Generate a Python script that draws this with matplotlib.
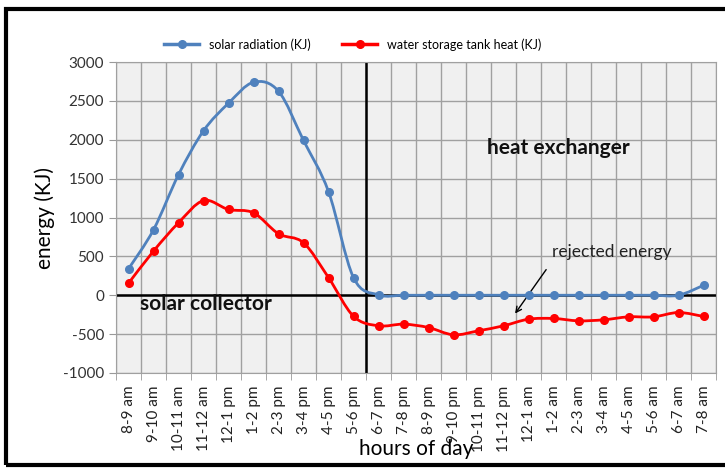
import matplotlib.pyplot as plt
import numpy as np
from matplotlib.patches import Rectangle, PathPatch
from matplotlib.path import Path

plt.rcParams['font.family'] = ['Lato', 'DejaVu Sans']
plt.rcParams['axes.unicode_minus'] = False

hours = ['8-9 am', '9-10 am', '10-11 am', '11-12 am', '12-1 pm', '1-2 pm', '2-3 pm',
         '3-4 pm', '4-5 pm', '5-6 pm', '6-7 pm', '7-8 pm', '8-9 pm', '9-10 pm',
         '10-11 pm', '11-12 pm', '12-1 am', '1-2 am', '2-3 am', '3-4 am', '4-5 am',
         '5-6 am', '6-7 am', '7-8 am']
solar = [340, 842, 1551, 2115, 2470, 2740, 2624, 1991, 1333, 227, 5, 0, 0, 0,
         0, 0, 0, 0, 0, 0, 0, 0, 0, 128]
tank = [154, 568, 932, 1218, 1103, 1060, 791, 675, 227, -270, -393, -372, -415, -509,
        -457, -393, -308, -299, -329, -316, -278, -278, -222, -273]


def smooth_path(xs, ys):
    # Excel-style smoothed line: cubic bezier segments through the data points
    p = np.column_stack([xs, ys]).astype(float)
    verts = [p[0]]
    codes = [Path.MOVETO]
    n = len(p)
    for i in range(n - 1):
        p0 = p[i - 1] if i > 0 else p[i]
        p3 = p[i + 2] if i + 2 < n else p[i + 1]
        c1 = p[i] + (p[i + 1] - p0) / 6
        c2 = p[i + 1] - (p3 - p[i]) / 6
        verts += [c1, c2, p[i + 1]]
        codes += [Path.CURVE4] * 3
    return Path(verts, codes)


fig = plt.figure(figsize=(7.25, 4.68), dpi=100)
ax = fig.add_axes([0.16, 0.203, 0.8276, 0.6645])
ax.set_facecolor('#f0f0f0')

x = np.arange(len(hours))
for vals, col, lab in [(solar, '#4f81bd', 'solar radiation (KJ)'),
                       (tank, '#ff0000', 'water storage tank heat (KJ)')]:
    ax.add_patch(PathPatch(smooth_path(x, vals), fill=False, edgecolor=col, lw=2, zorder=3))
    ax.plot(x, vals, color=col, lw=0, marker='o', ms=5.5, zorder=4)
    ax.plot([], [], color=col, lw=2.5, marker='o', ms=5.5, label=lab)

ax.set_xlim(-0.5, len(hours) - 0.5)
ax.set_ylim(-1000, 3000)
ax.set_yticks(np.arange(-1000, 3001, 500))
ax.set_xticks(x)
ax.set_xticklabels(hours, rotation=90, fontsize=11, color='#222222')
ax.set_xticks(np.arange(-0.5, len(hours), 1), minor=True)
ax.tick_params(axis='x', which='major', length=0, pad=9)
ax.tick_params(axis='x', which='minor', length=5, color='#999999')
ax.tick_params(axis='y', labelsize=11, length=5, color='#999999', labelcolor='#333333')
ax.grid(True, which='minor', axis='x', color='#a0a0a0', lw=1)
ax.grid(True, which='major', axis='y', color='#a0a0a0', lw=1)
ax.set_axisbelow(True)
for s in ax.spines.values():
    s.set_color('#a0a0a0')

ax.axhline(0, color='black', lw=1.8, zorder=1.5)
ax.axvline(9.5, color='black', lw=1.8, zorder=1.5)

ax.text(0.46, -115, 'solar collector', fontsize=15, fontweight='bold', va='center',
        color='#111111')
ax.text(14.34, 1897, 'heat exchanger', fontsize=15, fontweight='bold', va='center',
        color='#111111')
ax.text(16.94, 551, 'rejected energy', fontsize=12.5, va='center', color='#222222')
ax.annotate('', xy=(15.4, -265), xytext=(16.77, 359),
            arrowprops=dict(arrowstyle='->', color='black', lw=1))

ax.set_ylabel('energy (KJ)', fontsize=15, labelpad=6)
ax.set_xlabel('hours of day', fontsize=15, labelpad=-9)
ax.legend(loc='lower center', bbox_to_anchor=(0.395, 1.0), ncol=2, frameon=False,
          fontsize=9, handlelength=2.8, columnspacing=2.5)

fig.patches.append(Rectangle((0.008, 0.006), 1.1, 0.975, transform=fig.transFigure,
                             fill=False, edgecolor='black', lw=3))

fig.savefig('out.png', dpi=100)
